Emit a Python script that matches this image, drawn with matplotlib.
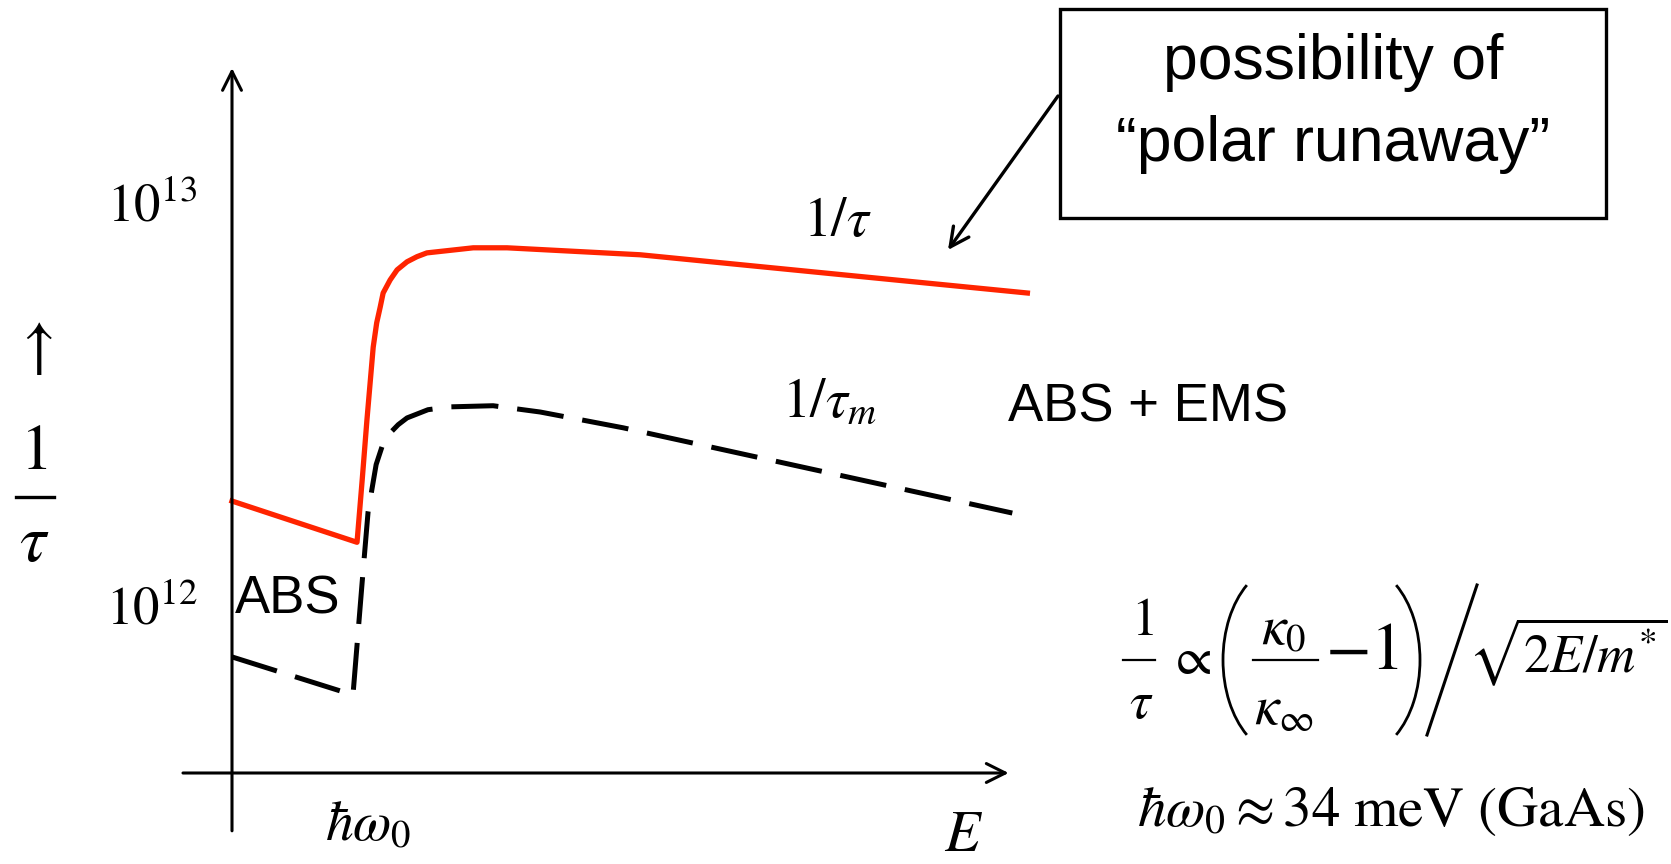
import matplotlib
matplotlib.use('Agg')
import matplotlib.pyplot as plt
from matplotlib.patches import Rectangle, Arc, FancyArrowPatch
from matplotlib.lines import Line2D
from matplotlib.transforms import IdentityTransform
from matplotlib.ticker import NullLocator

plt.rcParams['font.family'] = ['Liberation Sans', 'DejaVu Sans']
plt.rcParams['mathtext.fontset'] = 'stix'

# energy (meV) and scattering rates (1/s)
E_tau = [0, 34, 35.4, 36.7, 38.4, 39.35, 40.3, 41.1, 43.0, 44.9, 47.6, 50.3, 53.0,
         65.6, 74.8, 111.0, 216.3]
rate_tau = [1.81e12, 1.43e12, 2.04e12, 2.88e12, 4.36e12, 5.01e12, 5.48e12, 5.94e12,
            6.40e12, 6.78e12, 7.10e12, 7.31e12, 7.47e12, 7.69e12, 7.69e12, 7.39e12,
            5.94e12]

E_taum = [0, 32.9, 35.4, 37.0, 39.2, 40.8, 43.0, 45.2, 47.6, 53.3, 59.3, 71.0, 83.8,
          106.4, 212.2]
rate_taum = [7.43e11, 5.98e11, 1.14e12, 1.70e12, 2.23e12, 2.47e12, 2.67e12, 2.80e12,
             2.91e12, 3.05e12, 3.10e12, 3.12e12, 3.01e12, 2.75e12, 1.69e12]

ytick_vals = [1e12, 1e13]
ytick_labels = [r'$10^{12}$', r'$10^{13}$']

W, H = 1671, 864
fig = plt.figure(figsize=(W / 100, H / 100), dpi=100)


def px(x, y):
    # figure pixel (from top-left) -> figure fraction
    return (x / W, 1 - y / H)


def seg(x0, y0, x1, y1, lw=1.6):
    fig.add_artist(Line2D([x0 / W, x1 / W], [1 - y0 / H, 1 - y1 / H],
                          transform=fig.transFigure, color='k', lw=lw))


ax = fig.add_axes([232 / W, 91 / H, 809 / W, 705 / H])
ax.set_xlim(0, 220)
ax.set_yscale('log')
ax.set_ylim(10**11.583, 10**13.332)
for s in ax.spines.values():
    s.set_visible(False)
ax.set_xticks([])
ax.yaxis.set_minor_locator(NullLocator())
ax.set_yticks(ytick_vals)
ax.set_yticklabels(ytick_labels)
ax.tick_params(axis='y', length=0, pad=25, labelsize=38)

# axis arrows
arrow_kw = dict(arrowstyle='->', lw=2.2, color='k', mutation_scale=34,
                shrinkA=0, shrinkB=0)
ax.annotate('', xy=(0.960, 0), xytext=(-0.0606, 0), xycoords='axes fraction',
            arrowprops=arrow_kw, annotation_clip=False)
ax.annotate('', xy=(0, 1.0), xytext=(0, -0.082), xycoords='axes fraction',
            arrowprops=arrow_kw, annotation_clip=False)

ax.plot(E_tau, rate_tau, color='#ff2400', lw=3.8, solid_joinstyle='round',
        clip_on=False)
ax.plot(E_taum, rate_taum, color='k', lw=3.6, dashes=(9.4, 3.8), clip_on=False)

# labels
fig.text(*px(837, 222), r'$1/\tau$', fontsize=40, ha='center', va='center')
fig.text(*px(830, 402), r'$1/\tau_m$', fontsize=40, ha='center', va='center')
fig.text(*px(288, 600), 'ABS', fontsize=38, ha='center', va='center')
fig.text(*px(1148, 407), 'ABS + EMS', fontsize=38, ha='center', va='center')
fig.text(*px(368, 826), r'$\hbar\omega_0$', fontsize=40, ha='center', va='center')
fig.text(*px(964, 836), r'$E$', fontsize=42, ha='center', va='center')
fig.text(*px(33, 348), r'$\uparrow$', fontsize=46, ha='center', va='center')

# left 1/tau label
fig.text(*px(34, 452), r'$1$', fontsize=46, ha='center', va='center')
seg(16, 497, 54, 497, lw=2.4)
fig.text(*px(34, 544), r'$\tau$', fontsize=48, ha='center', va='center')

# formula 1/tau ~ (k0/kinf - 1) / sqrt(2E/m*)
fs = 38
fig.text(*px(1142, 621), r'$1$', fontsize=fs, ha='center', va='center')
seg(1123, 660, 1155, 660)
fig.text(*px(1141, 704), r'$\tau$', fontsize=fs, ha='center', va='center')
fig.text(*px(1190, 660), r'$\propto$', fontsize=fs, ha='center', va='center')
fig.text(*px(1284, 630), r'$\kappa_0$', fontsize=40, ha='center', va='center')
seg(1253, 660, 1318, 660)
fig.text(*px(1284, 710), r'$\kappa_\infty$', fontsize=40, ha='center', va='center')
fig.text(*px(1362, 652), r'$-1$', fontsize=48, ha='center', va='center')
fig.add_artist(Arc((1285, H - 660), 124, 190, theta1=117, theta2=243,
                   transform=IdentityTransform(), lw=2.0, color='k'))
fig.add_artist(Arc((1358, H - 660), 124, 190, theta1=-63, theta2=63,
                   transform=IdentityTransform(), lw=2.0, color='k'))
seg(1427, 735, 1477, 585, lw=2.2)
fig.text(*px(1468, 652), r'$\sqrt{2E/m^{*}}$', fontsize=38, ha='left', va='center')

fig.text(*px(1391, 811), r'$\hbar\omega_0 \approx 34\ \mathrm{meV\ (GaAs)}$',
         fontsize=41, ha='center', va='center')

# callout box
fig.add_artist(Rectangle(px(1060, 218), 546 / W, 209 / H, transform=fig.transFigure,
                         fill=False, lw=2.4, ec='k'))
fig.text(*px(1333, 62), 'possibility of', fontsize=45, ha='center', va='center')
fig.text(*px(1333, 144), '\u201cpolar runaway\u201d', fontsize=45, ha='center', va='center')
fig.add_artist(FancyArrowPatch(
    px(1058, 96), px(948, 250), transform=fig.transFigure, arrowstyle='->',
    lw=2.4, color='k', mutation_scale=34, shrinkA=0, shrinkB=0))

fig.savefig('out.png', dpi=100)
